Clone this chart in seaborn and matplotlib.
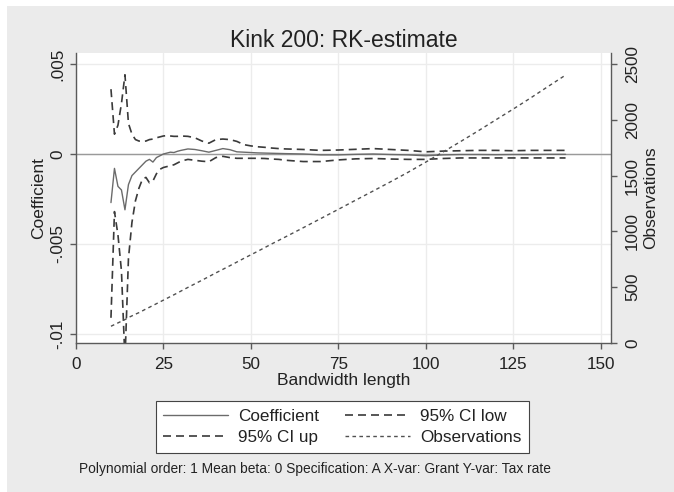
import numpy as np
import pandas as pd
import seaborn as sns
import matplotlib.pyplot as plt
from matplotlib.patches import Rectangle

# values
bandwidth = [10, 11, 12, 13, 14, 15, 16, 17, 18, 19, 20, 21, 22, 23, 24, 25, 26, 27, 28, 29, 30,
             32, 34, 36, 38, 40, 42, 44, 46, 48, 50, 52, 54, 56, 58, 60,
             65, 70, 75, 80, 85, 90, 95, 100, 105, 110, 115, 120, 125, 130, 135, 140]

coefficient = [-0.0027, -0.0008, -0.0018, -0.0020, -0.0031, -0.0017, -0.0012, -0.0010, -0.0008, -0.0006,
               -0.0004, -0.0003, -0.00045, -0.0002, -0.0001, 0.0, 0.00005, 0.0001, 0.00008, 0.00015, 0.0002,
               0.00028, 0.00025, 0.00018, 0.0001, 0.0002, 0.0003, 0.00024, 0.00012, 0.0001, 0.00008,
               0.00006, 0.00005, 0.00004, 0.00003, 0.00002,
               0.0, -0.00005, -0.00005, -0.00002, 0.0, -0.00003, -0.00005, -0.0001, -0.00005, -0.00003,
               -0.00003, -0.00004, -0.00003, -0.00003, -0.00002, -0.00002]

ci_up = [0.0036, 0.0011, 0.0016, 0.0028, 0.0044, 0.0017, 0.0011, 0.0008, 0.00072, 0.0007,
         0.00072, 0.0008, 0.00083, 0.0009, 0.00095, 0.001, 0.00102, 0.001, 0.00098, 0.00098, 0.001,
         0.00098, 0.0009, 0.00072, 0.0006, 0.0008, 0.00083, 0.0008, 0.0007, 0.00052, 0.00045,
         0.0004, 0.00037, 0.00033, 0.0003, 0.00028,
         0.00025, 0.0002, 0.00022, 0.00026, 0.0003, 0.00025, 0.0002, 0.00012, 0.00016, 0.00018,
         0.0002, 0.0002, 0.00018, 0.0002, 0.0002, 0.0002]

ci_low = [-0.0091, -0.0032, -0.0045, -0.0065, -0.0115, -0.0058, -0.0038, -0.0026, -0.0019, -0.0014,
          -0.0013, -0.0016, -0.0015, -0.0011, -0.00085, -0.00075, -0.0007, -0.00065, -0.0006, -0.0005, -0.0004,
          -0.0003, -0.00035, -0.0004, -0.00043, -0.0002, -0.00013, -0.0002, -0.00024, -0.00024, -0.00024,
          -0.00024, -0.00025, -0.00028, -0.0003, -0.00035,
          -0.00042, -0.00042, -0.00033, -0.00027, -0.00025, -0.00028, -0.0003, -0.0003, -0.00025, -0.00022,
          -0.00022, -0.00022, -0.00022, -0.00022, -0.00022, -0.00022]

observations = [150, 165, 180, 195, 210, 228, 243, 258, 272, 288, 305, 320, 336, 352, 368, 384, 400, 416, 432, 448, 465,
                498, 530, 562, 595, 628, 660, 692, 725, 758, 790, 822, 855, 888, 920, 952,
                1033, 1115, 1197, 1280, 1362, 1445, 1530, 1620, 1712, 1805, 1900, 1998, 2095, 2195, 2298, 2400]

xticks = [0, 25, 50, 75, 100, 125, 150]
left_ticks = [0.005, 0, -0.005, -0.01]
left_labels = ['.005', '0', '-.005', '-.01']
right_ticks = [0, 500, 1000, 1500, 2000, 2500]

note = "Polynomial order: 1 Mean beta: 0 Specification: A X-var: Grant Y-var: Tax rate"

df = pd.DataFrame({'bw': bandwidth, 'coef': coefficient, 'up': ci_up,
                   'low': ci_low, 'obs': observations})

sns.set_style("white")
plt.rcParams['font.family'] = ['Liberation Sans', 'DejaVu Sans']

W, H = 674, 492
fig = plt.figure(figsize=(W / 100, H / 100), dpi=100)
fig.patch.set_facecolor('white')
fig.patches.append(Rectangle((7 / W, 0), 1, 1 - 6 / H, transform=fig.transFigure,
                             facecolor='#ebebeb', edgecolor='none', zorder=-10))

ax = fig.add_axes([76 / W, 1 - 343 / H, (611 - 76) / W, (343 - 53) / H])
ax.set_facecolor('white')

dash_ci = (0, (4.8, 3.0))
dot_obs = (0, (2.6, 2.4))

sns.lineplot(data=df, x='bw', y='coef', ax=ax, color='#6b6b6b', lw=1.0,
             errorbar=None, label='Coefficient')
sns.lineplot(data=df, x='bw', y='up', ax=ax, color='#3a3a3a', lw=1.2,
             linestyle=dash_ci, errorbar=None, label='95% CI up')
sns.lineplot(data=df, x='bw', y='low', ax=ax, color='#3a3a3a', lw=1.2,
             linestyle=dash_ci, errorbar=None, label='95% CI low')
ax.axhline(0, color='#9a9a9a', lw=1.0, zorder=1)

ax2 = ax.twinx()
sns.lineplot(data=df, x='bw', y='obs', ax=ax2, color='#505050', lw=1.0,
             linestyle=dot_obs, errorbar=None, label='Observations')

for a in (ax, ax2):
    if a.get_legend() is not None:
        a.get_legend().remove()

ax.set_xlim(0, 153)
ax.set_ylim(-0.0105, 0.00561)
ax2.set_ylim(0, 2598)

ax.set_xticks(xticks)
ax.set_yticks(left_ticks)
ax.set_yticklabels(left_labels, rotation=90, va='center')
ax2.set_yticks(right_ticks)
ax2.set_yticklabels([str(t) for t in right_ticks], rotation=90, va='center')

ax.grid(True, color='#ececec', lw=1.0)
ax.set_axisbelow(True)

axis_col = '#5a5a5a'
for s in ['top']:
    ax.spines[s].set_visible(False)
    ax2.spines[s].set_visible(False)
for s in ['left', 'bottom']:
    ax.spines[s].set_color(axis_col)
    ax.spines[s].set_linewidth(1.0)
ax.spines['right'].set_visible(False)
ax2.spines['left'].set_visible(False)
ax2.spines['bottom'].set_visible(False)
ax2.spines['right'].set_color(axis_col)
ax2.spines['right'].set_linewidth(1.0)

ax.tick_params(axis='x', direction='out', length=4, width=1, color=axis_col,
               labelsize=12.3, pad=6, bottom=True, labelcolor='#222')
ax.tick_params(axis='y', direction='out', length=4, width=1, color=axis_col,
               labelsize=12.3, pad=4, left=True, labelcolor='#222')
ax2.tick_params(axis='y', direction='out', length=4, width=1, color=axis_col,
                labelsize=12.3, pad=6, right=True, labelcolor='#222')

ax.set_xlabel('Bandwidth length', fontsize=12.5, labelpad=1, color='#222')
ax.set_ylabel('Coefficient', fontsize=12.5, labelpad=3, color='#222')
ax2.set_ylabel('Observations', fontsize=12.5, labelpad=2, color='#222')
ax.set_title('Kink 200: RK-estimate', fontsize=16.5, pad=4.5, color='#222')

h1, l1 = ax.get_legend_handles_labels()
h2, l2 = ax2.get_legend_handles_labels()
handles = [h1[0], h1[1], h1[2], h2[0]]
labels = [l1[0], l1[1], l1[2], l2[0]]
leg = fig.legend(handles, labels, loc='center', bbox_to_anchor=(342.5 / W, 1 - 427 / H),
                 ncol=2, frameon=True, fancybox=False, edgecolor='#444', facecolor='white',
                 framealpha=1, fontsize=12.3, handlelength=3.8, handletextpad=0.6,
                 columnspacing=1.5, labelspacing=0.4, borderpad=0.45)
leg.get_frame().set_linewidth(0.8)
for t in leg.get_texts():
    t.set_color('#222')

fig.text(79 / W, 1 - 469 / H, note, fontsize=9.9, ha='left', va='center', color='#222')

fig.savefig('out.png', dpi=100)
